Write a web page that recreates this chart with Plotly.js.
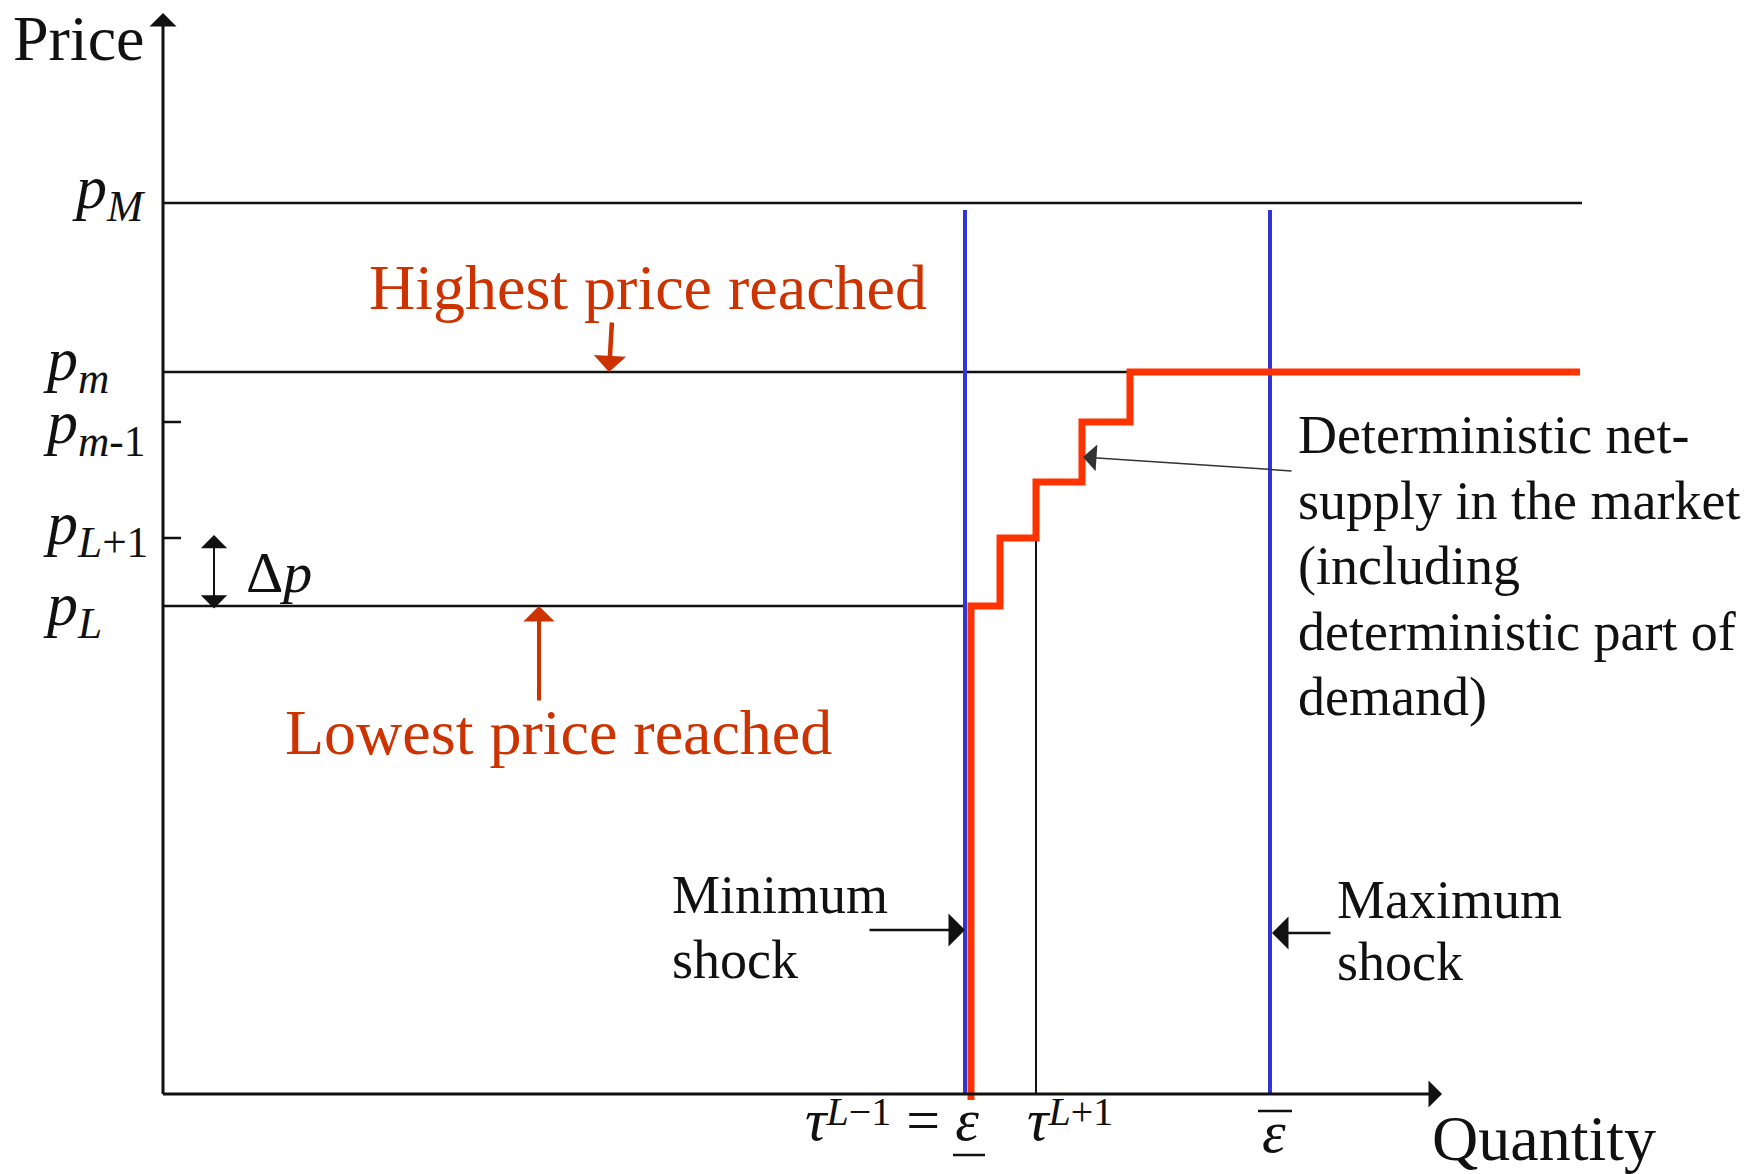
<!DOCTYPE html>
<html>
<head>
<meta charset="utf-8">
<script src="https://cdn.plot.ly/plotly-3.0.1.min.js"></script>
<style>
  html, body { margin: 0; padding: 0; background: #ffffff; }
  #chart { width: 1752px; height: 1174px; }
</style>
</head>
<body>
<div id="chart"></div>
<script>
// Price grid: p_L, p_L+1, intermediate level, p_m-1, p_m
const gridPrices = [48.8, 55.6, 61.2, 67.2, 72.2];
// Upper price bound p_M
const maxPrice = 89.1;
// Quantities at which the deterministic net-supply rises one price level
const stepQuantities = [80.8, 83.7, 87.3, 91.9, 96.7];
const supplyEndQuantity = 141.7;
const supplyBottom = -0.6;
// Support of the demand shock
const minShock = 80.2;
const maxShock = 110.7;
const shockLineTop = 88.4;
// Axis extents
const quantityAxisEnd = 127.9;
const priceAxisEnd = 108.1;
const maxPriceLineEnd = 141.9;
const tickLength = 1.8;

// Vertical-axis labels and the price each one names
const priceTickValues = [maxPrice, gridPrices[4], gridPrices[3], gridPrices[1], gridPrices[0]];
const priceTickLabels = [
  '<i>p</i><sub><i>M</i></sub>',
  '<i>p</i><sub><i>m</i></sub>',
  '<i>p</i><sub><i>m</i>-1</sub>',
  '<i>p</i><sub><i>L</i>+1</sub>',
  '<i>p</i><sub><i>L</i></sub>'
];
// Horizontal-axis labels and the quantity each one names
const SUP = '<span style="font-size:40px;baseline-shift:15px">';
const quantityTickValues = [minShock, stepQuantities[2], maxShock];
const quantityTickLabels = [
  '<i>τ</i>' + SUP + '<i>L</i>−1</span> = <i>ε</i>',
  '<i>τ</i>' + SUP + '<i>L</i>+1</span>',
  '<i>ε</i>'
];

const supplyNote = [
  'Deterministic net-',
  'supply in the market',
  '(including',
  'deterministic part of',
  'demand)'
];

const SERIF = 'Liberation Serif, Times New Roman, serif';
const BLACK = '#111111';
const RED_LINE = '#ff3300';
const RED_TEXT = '#cc3300';
const BLUE = '#3434d4';

const traces = [];

// Horizontal price lines p_M, p_m and p_L
traces.push({
  type: 'scatter', mode: 'lines',
  x: [0, maxPriceLineEnd, null, 0, stepQuantities[4], null, 0, minShock],
  y: [maxPrice, maxPrice, null, gridPrices[4], gridPrices[4], null, gridPrices[0], gridPrices[0]],
  line: { color: BLACK, width: 2.5 }
});

// Short ticks on the price axis
traces.push({
  type: 'scatter', mode: 'lines',
  x: [0, tickLength, null, 0, tickLength],
  y: [gridPrices[3], gridPrices[3], null, gridPrices[1], gridPrices[1]],
  line: { color: BLACK, width: 2.5 }
});

// Drop line from the p_L+1 step to tau^(L+1)
traces.push({
  type: 'scatter', mode: 'lines',
  x: [stepQuantities[2], stepQuantities[2]],
  y: [0, gridPrices[1]],
  line: { color: BLACK, width: 2 }
});

// Minimum and maximum shock
traces.push({
  type: 'scatter', mode: 'lines',
  x: [minShock, minShock, null, maxShock, maxShock],
  y: [0, shockLineTop, null, 0, shockLineTop],
  line: { color: BLUE, width: 4 }
});

// Deterministic net-supply staircase
traces.push({
  type: 'scatter', mode: 'lines',
  x: [stepQuantities[0]].concat(stepQuantities, [supplyEndQuantity]),
  y: [supplyBottom].concat(gridPrices, [gridPrices[4]]),
  line: { color: RED_LINE, width: 7, shape: 'hv' }
});

function label(text, x, y, size, extra) {
  return Object.assign({
    text: text, x: x, y: y, xref: 'x', yref: 'y',
    showarrow: false, xanchor: 'left', yanchor: 'middle', align: 'left',
    font: { family: SERIF, size: size, color: BLACK }
  }, extra || {});
}

function arrow(x, y, ax, ay, color, width, size, extra) {
  return Object.assign({
    text: '', x: x, y: y, ax: ax, ay: ay,
    xref: 'x', yref: 'y', axref: 'x', ayref: 'y',
    showarrow: true, arrowhead: 1, arrowwidth: width, arrowsize: size,
    arrowcolor: color, standoff: 0, startstandoff: 0
  }, extra || {});
}

const annotations = [];

// Axes with arrow tips
annotations.push(arrow(0, priceAxisEnd, 0, -0.15, BLACK, 3, 1.5));
annotations.push(arrow(quantityAxisEnd, 0, -0.15, 0, BLACK, 3, 1.5));

// Axis titles
annotations.push(label('Price', -15.2, 105.6, 64));
annotations.push(label('Quantity', 126.7, -4.4, 64));

// Price labels, nudged to sit beside their levels
const priceLabelX = [-9.3, -12.2, -12.2, -12.2, -12.2];
const priceLabelShift = [12, 9, -4, 11, -2];
priceTickLabels.forEach(function (t, i) {
  annotations.push(label(t, priceLabelX[i], priceTickValues[i], 62, { yshift: priceLabelShift[i] }));
});

// Quantity labels
annotations.push(label(quantityTickLabels[0], quantityTickValues[0] - 16.2, -2.6, 60));
annotations.push(label(quantityTickLabels[1], quantityTickValues[1] - 1.1, -2.6, 60));
annotations.push(label(quantityTickLabels[2], quantityTickValues[2] + 0.4, -3.8, 60, { xanchor: 'center' }));

// Bar under the lower shock bound and over the upper one
const shapes = [
  { type: 'line', xref: 'x', yref: 'y', x0: minShock - 1.2, x1: minShock + 2.0, y0: -6.1, y1: -6.1,
    line: { color: BLACK, width: 2.5 } },
  { type: 'line', xref: 'x', yref: 'y', x0: maxShock - 1.2, x1: maxShock + 2.2, y0: -1.7, y1: -1.7,
    line: { color: BLACK, width: 2.5 } }
];

// Delta p between p_L and p_L+1
annotations.push(arrow(5.1, gridPrices[1] + 0.3, 5.1, gridPrices[0] - 0.4, BLACK, 2, 2.2,
  { arrowside: 'end+start', startarrowhead: 1, startarrowsize: 2.2 }));
annotations.push(label('Δ<i>p</i>', 8.1, 52.2, 58));

// Highest / lowest price reached
annotations.push(label('Highest price reached', 20.4, 80.7, 64, { font: { family: SERIF, size: 64, color: RED_TEXT } }));
annotations.push(arrow(44.6, gridPrices[4], 44.9, 77.3, RED_TEXT, 4.5, 1.2));
annotations.push(label('Lowest price reached', 12.0, 36.2, 64, { font: { family: SERIF, size: 64, color: RED_TEXT } }));
annotations.push(arrow(37.6, gridPrices[0], 37.6, 39.2, RED_TEXT, 4, 1.3));

// Net-supply note and its pointer
supplyNote.forEach(function (line, i) {
  annotations.push(label(line, 113.3, 65.9 - 6.55 * i, 54));
});
annotations.push(arrow(92.0, 63.7, 113.0, 62.3, '#333333', 1.5, 3));

// Shock notes
annotations.push(label('Minimum', 50.7, 19.9, 54));
annotations.push(label('shock', 50.7, 13.4, 54));
annotations.push(arrow(minShock, 16.4, 70.5, 16.4, BLACK, 2.5, 2.2));
annotations.push(label('Maximum', 117.2, 19.4, 54));
annotations.push(label('shock', 117.2, 13.2, 54));
annotations.push(arrow(maxShock + 0.2, 16.1, 116.9, 16.1, BLACK, 2.5, 2.2));

const layout = {
  width: 1752, height: 1174,
  margin: { l: 0, r: 0, t: 0, b: 0, pad: 0 },
  paper_bgcolor: '#ffffff', plot_bgcolor: '#ffffff',
  showlegend: false, hovermode: false,
  xaxis: { range: [-16.3, 158.9], visible: false, fixedrange: true },
  yaxis: { range: [-8.0, 109.4], visible: false, fixedrange: true },
  shapes: shapes,
  annotations: annotations
};

Plotly.newPlot('chart', traces, layout, { displayModeBar: false, staticPlot: true });
</script>
</body>
</html>
